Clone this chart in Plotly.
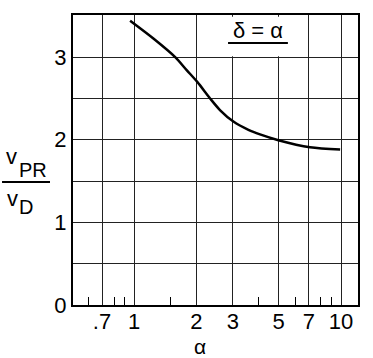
import plotly.graph_objects as go

# Data
alpha = [0.957, 1.24, 1.58, 1.80, 2.02, 2.33, 2.60, 3.02, 3.57, 4.06, 4.98, 7.08, 9.9]
ratio = [3.44, 3.225, 3.00, 2.84, 2.70, 2.50, 2.36, 2.22, 2.12, 2.065, 1.995, 1.91, 1.883]

x_tickvals = [0.7, 1, 2, 3, 5, 7, 10]
x_ticktext = [".7", "1", "2", "3", "5", "7", "10"]
x_minor = [0.6, 0.8, 0.9, 1.5, 4, 6, 8, 9]
y_tickvals = [0, 0.5, 1, 1.5, 2, 2.5, 3]
y_ticktext = ["0", "", "1", "", "2", "", "3"]

FONT = "Liberation Sans"

fig = go.Figure()
fig.add_trace(go.Scatter(x=alpha, y=ratio, mode="lines",
                         line=dict(color="black", width=2.5, shape="spline", smoothing=0.8),
                         showlegend=False, hoverinfo="skip"))

fig.update_layout(
    width=373, height=358,
    margin=dict(l=73, r=15, t=15, b=53),
    paper_bgcolor="white", plot_bgcolor="white",
    font=dict(family=FONT, color="black", size=22),
    xaxis=dict(type="log", range=[-0.295, 1.082],
               tickvals=x_tickvals, ticktext=x_ticktext,
               showgrid=True, gridcolor="#222", gridwidth=1,
               showline=True, linecolor="black", linewidth=2, mirror=True,
               ticks="", ticklen=0, ticklabelstandoff=-4, zeroline=False,
               minor=dict(tickvals=x_minor, ticks="inside", ticklen=8,
                          tickcolor="black", tickwidth=1.2, showgrid=False),
               tickfont=dict(size=22, family=FONT)),
    yaxis=dict(range=[0, 3.51], tickvals=y_tickvals, ticktext=y_ticktext,
               showgrid=True, gridcolor="#222", gridwidth=1,
               showline=True, linecolor="black", linewidth=2, mirror=True,
               ticks="", zeroline=False,
               tickfont=dict(size=22, family=FONT)),
)

# white box clearing grid behind the label
fig.add_shape(type="rect", xref="x", yref="y", x0=2.04, x1=6.85, y0=3.01, y1=3.49,
              fillcolor="white", line=dict(width=0), layer="between")

# label delta = alpha
fig.add_annotation(text="δ = α", xref="paper", yref="paper", x=0.649, y=0.945,
                   xanchor="center", yanchor="middle",
                   showarrow=False, font=dict(size=22, family=FONT))
fig.add_shape(type="line", xref="paper", yref="paper", x0=0.544, x1=0.754,
              y0=0.9034, y1=0.9034, line=dict(color="black", width=2))

# x axis title
fig.add_annotation(text="α", xref="paper", yref="paper", x=0.4439, y=-0.1414,
                   xanchor="center", yanchor="middle", borderpad=0,
                   showarrow=False, font=dict(size=21, family=FONT))

# y axis title as fraction v_PR / v_D
fig.add_annotation(text="v", xref="paper", yref="paper", x=-0.2175, y=0.512,
                   xanchor="center", yanchor="middle",
                   showarrow=False, font=dict(size=22, family=FONT))
fig.add_annotation(text="PR", xref="paper", yref="paper", x=-0.1404, y=0.4655,
                   xanchor="center", yanchor="middle",
                   showarrow=False, font=dict(size=20, family=FONT))
fig.add_shape(type="line", xref="paper", yref="paper", x0=-0.249, x1=-0.0807,
              y0=0.4241, y1=0.4241, line=dict(color="black", width=2))
fig.add_annotation(text="v", xref="paper", yref="paper", x=-0.2123, y=0.367,
                   xanchor="center", yanchor="middle",
                   showarrow=False, font=dict(size=22, family=FONT))
fig.add_annotation(text="D", xref="paper", yref="paper", x=-0.1632, y=0.3379,
                   xanchor="center", yanchor="middle",
                   showarrow=False, font=dict(size=20, family=FONT))

fig.write_html("out.html")
